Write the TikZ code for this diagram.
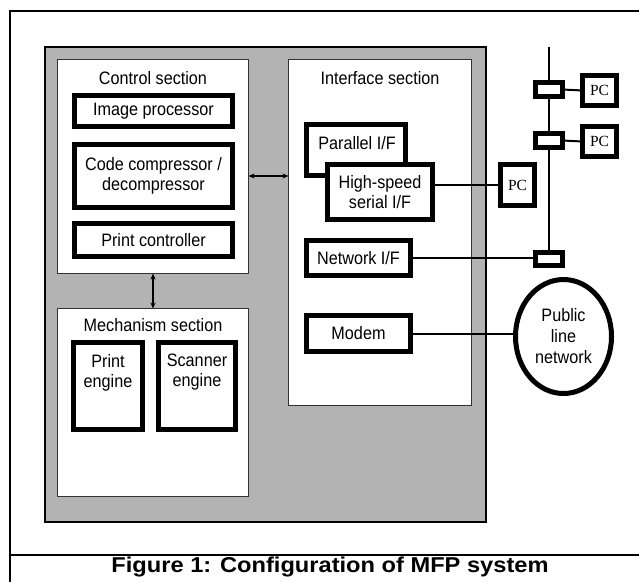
\documentclass[tikz,border=0pt]{standalone}
\usepackage{fontspec}
\setmainfont{Liberation Sans}[FakeStretch=0.9]
\newfontfamily\capfont{Liberation Sans}[FakeStretch=1.1]
\newfontfamily\pcfont{Liberation Serif}
\usetikzlibrary{shapes.geometric,arrows.meta}
\definecolor{boxgray}{RGB}{179,179,179}
\begin{document}
\begin{tikzpicture}[x=1pt,y=-1pt,
  every node/.style={inner sep=0pt,outer sep=0pt},
  txt/.style={font=\fontsize{18}{20}\selectfont,align=center},
  section/.style={draw=black!80,line width=1pt,fill=white},
  tbox/.style={draw,line width=5pt,fill=white,font=\fontsize{18}{20}\selectfont,align=center},
  pcbox/.style={draw,line width=5pt,fill=white,font=\pcfont\fontsize{15.5}{18}\selectfont,minimum width=34,minimum height=30},
  tap/.style={draw,line width=5pt,fill=white,minimum width=27,minimum height=14},
  conn/.style={line width=2pt},
  dbl/.style={line width=1.5pt,{Stealth[length=6pt,width=5pt]}-{Stealth[length=6pt,width=5pt]}}
]
\useasboundingbox (0,0) rectangle (639,582);
% outer frame
\draw[line width=1.5pt] (639,11) -- (10,11) -- (10,582);
\draw[line width=1.5pt] (10,555) -- (639,555);
\node[font=\capfont\bfseries\fontsize{21.5}{24}\selectfont] (caption) at (330,567) {Figure 1: Configuration of MFP system};
% gray device box
\node[draw,line width=2pt,fill=boxgray,minimum width=441,minimum height=475] (mfp) at (265.5,284.5) {};
% sections
\node[section,minimum width=191,minimum height=214] (ctrl) at (153,166.5) {};
\node[txt] (ctrllbl) at (153,78) {Control section};
\node[section,minimum width=191,minimum height=188] (mech) at (153,402.5) {};
\node[txt] (mechlbl) at (153,325) {Mechanism section};
\node[section,minimum width=183,minimum height=346] (iface) at (380,232.5) {};
\node[txt] (ifacelbl) at (380,78) {Interface section};
% control blocks
\node[tbox,minimum width=158,minimum height=31] (imgp) at (153.5,111) {Image processor};
\node[tbox,minimum width=158,minimum height=63] (codec) at (153.5,176) {Code compressor /\\decompressor};
\node[tbox,minimum width=158,minimum height=33] (prtc) at (153.5,240) {Print controller};
% mechanism blocks
\node[tbox,minimum width=69,minimum height=87] (peng) at (108,386) {};
\node[txt] (penglbl) at (108,372.5) {Print\\engine};
\node[tbox,minimum width=77,minimum height=87] (seng) at (197,386) {};
\node[txt] (senglbl) at (197,372.5) {Scanner\\engine};
% interface blocks
\node[tbox,minimum width=99,minimum height=51] (par) at (356,150) {};
\node[txt] (parlbl) at (357,143) {Parallel I/F};
\node[tbox,minimum width=105,minimum height=55] (hss) at (380,192) {High-speed\\serial I/F};
\node[tbox,minimum width=104,minimum height=35] (net) at (358.5,258) {Network I/F};
\node[tbox,minimum width=104,minimum height=36] (modem) at (358.5,333.5) {Modem};
% internal arrows
\draw[dbl] (ctrl.east |- codec) -- (iface.west |- codec);
\draw[dbl] (ctrl.south) -- (mech.north);
% external
\node[pcbox,minimum height=41] (pc3) at (517.5,185) {PC};
\node[pcbox] (pc1) at (599.5,90.5) {PC};
\node[pcbox] (pc2) at (599.5,141.5) {PC};
\coordinate (bustop) at (549,47);
\node[tap] (t1) at (549,89.5) {};
\node[tap] (t2) at (549,140.5) {};
\node[tap,minimum height=13] (t3) at (549,259) {};
\node[ellipse,draw,line width=5pt,fill=white,minimum width=96,minimum height=114,
      font=\fontsize{18}{21}\selectfont,align=center] (pstn) at (563.5,336.5) {Public\\line\\network};
\draw[conn] (bustop) -- (t1.north);
\draw[conn] (t1.south) -- (t2.north);
\draw[conn] (t2.south) -- (t3.north);
\draw[conn] (t1.east) -- (pc1.west);
\draw[conn] (t2.east) -- (pc2.west);
\draw[conn] (hss.east |- pc3) -- (pc3.west);
\draw[conn] (net.east) -- (t3.west |- net.east);
\draw[conn] (modem.east) -- (pstn.west |- modem.east);
\end{tikzpicture}
\end{document}
